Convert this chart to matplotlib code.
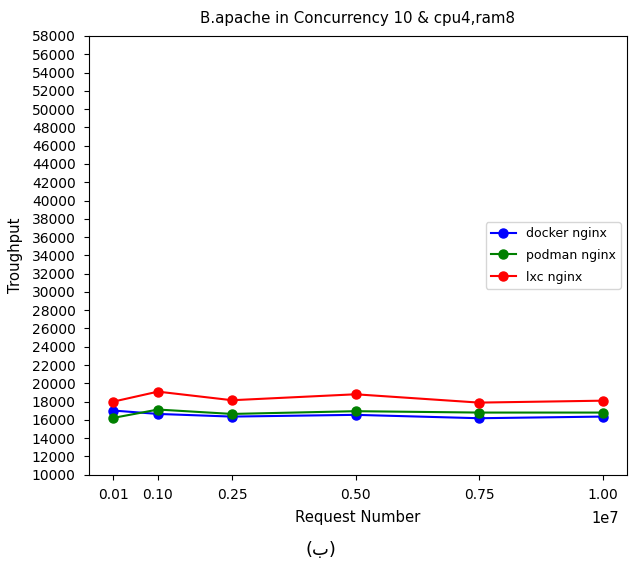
import matplotlib
matplotlib.use("Agg")
import matplotlib.pyplot as plt
import numpy as np

requests = [100000, 1000000, 2500000, 5000000, 7500000, 10000000]
xtick_labels = ["0.01", "0.10", "0.25", "0.50", "0.75", "1.00"]
docker = [17020, 16650, 16360, 16550, 16180, 16360]
podman = [16220, 17130, 16650, 16950, 16800, 16800]
lxc = [18000, 19090, 18150, 18800, 17890, 18100]
yticks = list(range(10000, 58001, 2000))

fig = plt.figure(figsize=(6.29, 5.62), dpi=100)
ax = fig.add_axes([0.1415, 0.1553, 0.8553, 0.7807])
ax.plot(requests, docker, "o-", color="blue", label="docker nginx", markersize=6.5)
ax.plot(requests, podman, "o-", color="green", label="podman nginx", markersize=6.5)
ax.plot(requests, lxc, "o-", color="red", label="lxc nginx", markersize=6.5)
ax.set_xticks(requests)
ax.set_xticklabels(xtick_labels)
ax.set_ylim(10000, 58000)
ax.set_yticks(yticks)
ax.tick_params(axis="both", pad=6, labelsize=10)
ax.text(0.985, -0.082, "1e7", transform=ax.transAxes, ha="right", va="top", fontsize=10.5)
ax.set_xlabel("Request Number", fontsize=10.7, labelpad=6)
ax.set_ylabel("Troughput", fontsize=10.7, labelpad=6)
ax.set_title("B.apache in Concurrency 10 & cpu4,ram8", fontsize=10.8, pad=9)
ax.legend(loc="center right", fontsize=9, labelspacing=0.7)
fig.text(0.51, 0.021, "(ب)", ha="center", va="center", fontsize=13, family=["DejaVu Sans"])
fig.savefig("out.png", dpi=100)
